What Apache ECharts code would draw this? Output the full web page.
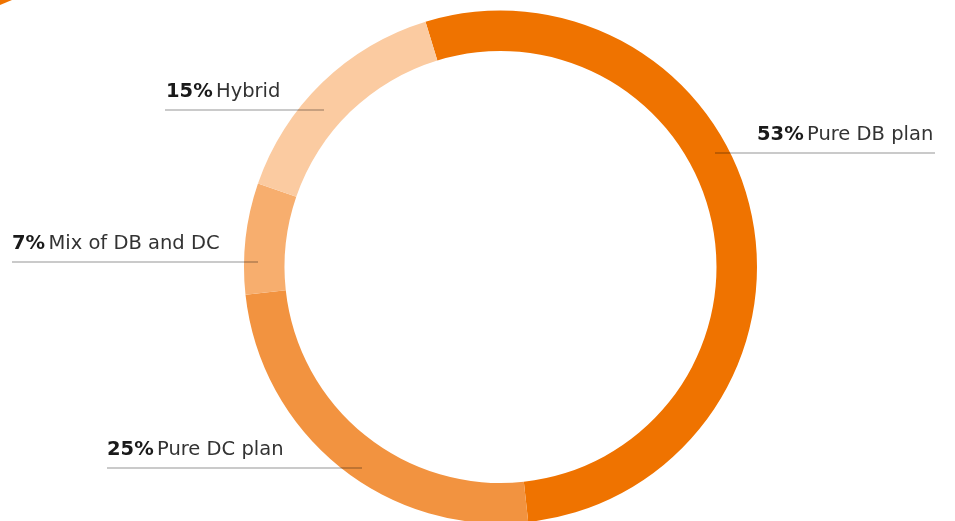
<!DOCTYPE html>
<html>
<head>
<meta charset="utf-8">
<script src="https://cdn.jsdelivr.net/npm/echarts@6/dist/echarts.min.js"></script>
<style>
  html, body { margin: 0; padding: 0; background: #fff; }
  #chart { width: 955px; height: 521px; }
</style>
</head>
<body>
<div id="chart"></div>
<script>
const categories = ['Pure DB plan', 'Pure DC plan', 'Mix of DB and DC', 'Hybrid'];
const values = [53, 25, 7, 15];
const colors = ['#EF7300', '#F29340', '#F7AE6E', '#FBCBA1'];

// label anchor (text left x, underline y, underline start x, underline end x)
const labelPos = [
  { x: 757, y: 153, x1: 715, x2: 935 },
  { x: 107, y: 468, x1: 107, x2: 362 },
  { x: 12,  y: 262, x1: 12,  x2: 258 },
  { x: 166, y: 110, x1: 165, x2: 324 }
];

const chart = echarts.init(document.getElementById('chart'), null, { renderer: 'canvas' });
const FONT = 'DejaVu Sans';

const lines = labelPos.map(lp => ({
  type: 'line',
  z: 100,
  silent: true,
  shape: { x1: lp.x1, y1: lp.y, x2: lp.x2, y2: lp.y },
  style: { stroke: 'rgba(0,0,0,0.28)', lineWidth: 1.6 }
}));

chart.setOption({
  animation: false,
  backgroundColor: '#ffffff',
  graphic: [
    { type: 'polygon', shape: { points: [[0, 0], [12, 0], [0, 5]] }, style: { fill: '#EF7300' } }
  ].concat(lines),
  series: [{
    type: 'pie',
    center: [500.5, 267],
    radius: [216, 256.5],
    startAngle: 107,
    clockwise: true,
    silent: true,
    data: categories.map((c, i) => ({ name: c, value: values[i], itemStyle: { color: colors[i] } })),
    itemStyle: { borderWidth: 0 },
    label: {
      show: true,
      position: 'outside',
      overflow: 'none',
      formatter: p => '{b|' + values[p.dataIndex] + '%} {n|' + p.name + '}',
      rich: {
        b: { fontFamily: FONT, fontSize: 19.5, fontWeight: 'bold', color: '#1a1a1a' },
        n: { fontFamily: FONT, fontSize: 19.5, fontWeight: 'normal', color: '#333333' }
      }
    },
    labelLine: { show: false },
    labelLayout: function (params) {
      const lp = labelPos[params.dataIndex];
      return {
        x: lp.x,
        y: lp.y - 8,
        width: 400,
        align: 'left',
        verticalAlign: 'bottom'
      };
    }
  }]
});
</script>
</body>
</html>
